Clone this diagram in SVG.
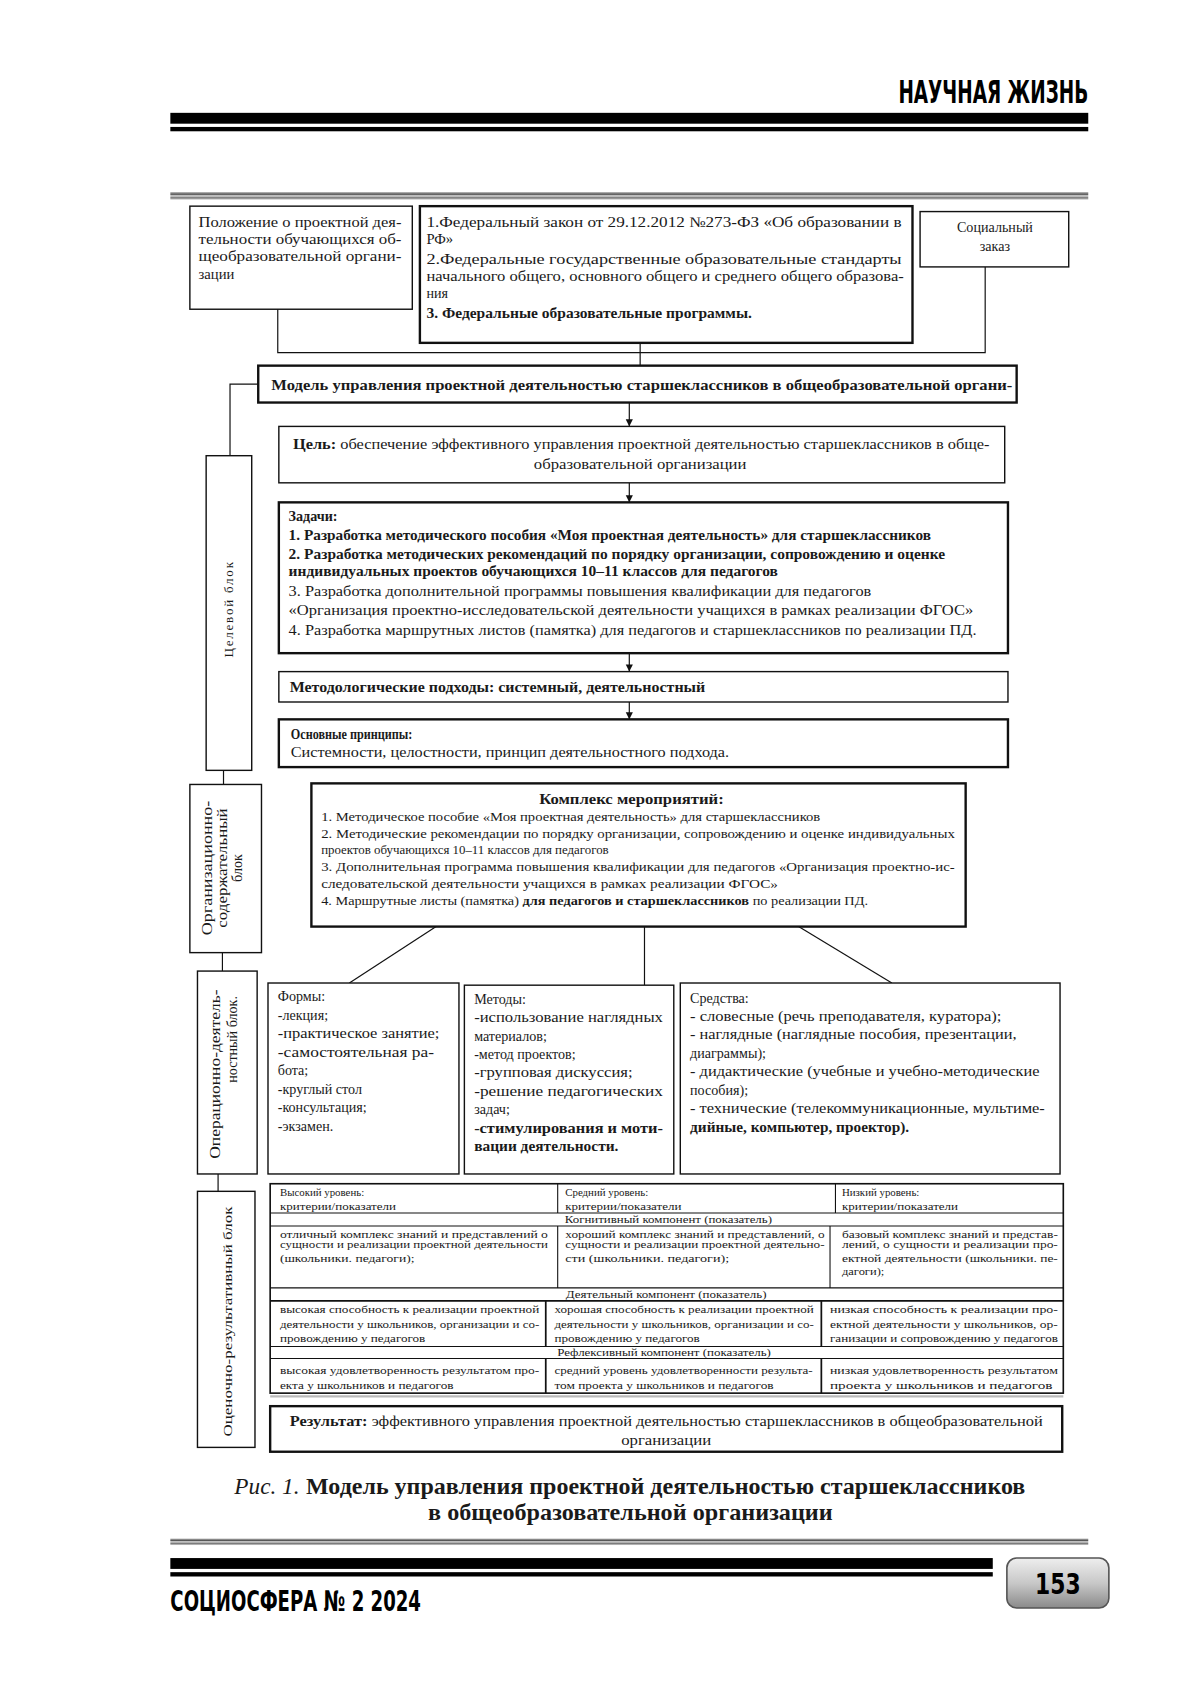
<svg xmlns="http://www.w3.org/2000/svg" width="1200" height="1697" viewBox="0 0 1200 1697">
<defs>
<style>
.t{font-family:"Liberation Serif","Times New Roman",serif;font-size:13px;fill:#1a1a1a}
.s{font-size:10px}
.m{font-size:12px}
.b{font-weight:bold}
.i{font-style:italic}
.c{text-anchor:middle}
.box{fill:#fff;stroke:#111;stroke-width:1.3}
.tk{stroke-width:2.2}
.ln{fill:none;stroke:#111;stroke-width:1.1}
.hd{font-family:"DejaVu Sans Condensed","DejaVu Sans",sans-serif;font-weight:bold;fill:#000}
</style>
<marker id="ah" viewBox="0 0 10 10" refX="10" refY="5" markerWidth="6" markerHeight="7" orient="auto">
<path d="M0,0 L10,5 L0,10 z" fill="#111"/>
</marker>
<linearGradient id="gb" x1="0" y1="0" x2="0" y2="1">
<stop offset="0" stop-color="#bbb"/><stop offset="0.3" stop-color="#555"/><stop offset="0.5" stop-color="#ddd"/><stop offset="0.75" stop-color="#777"/><stop offset="1" stop-color="#ccc"/>
</linearGradient>
<linearGradient id="pg" x1="0" y1="0" x2="0" y2="1">
<stop offset="0" stop-color="#eee"/><stop offset="0.5" stop-color="#c8c8c8"/><stop offset="1" stop-color="#8a8a8a"/>
</linearGradient>
</defs>
<rect width="1200" height="1697" fill="#fff"/>
<g transform="scale(1.085)">
<g id="header">
<text class="hd" x="828" y="95" style="font-size:30px" textLength="175" lengthAdjust="spacingAndGlyphs">НАУЧНАЯ ЖИЗНЬ</text>
<rect x="157" y="104" width="846" height="10" fill="#000"/>
<rect x="157" y="117" width="846" height="4" fill="#000"/>
<rect x="157" y="177" width="846" height="7" fill="url(#gb)"/>
</g>

<g id="connectors">
<polyline class="ln" points="256,285 256,325 908,325 908,246"/>
<line class="ln" x1="590" y1="316" x2="590" y2="337"/>
<polyline class="ln" points="238,354 212,354 212,420"/>
<line class="ln" x1="580" y1="371" x2="580" y2="393" marker-end="url(#ah)"/>
<line class="ln" x1="580" y1="445" x2="580" y2="463" marker-end="url(#ah)"/>
<line class="ln" x1="580" y1="602" x2="580" y2="619" marker-end="url(#ah)"/>
<line class="ln" x1="580" y1="647" x2="580" y2="663" marker-end="url(#ah)"/>
<line class="ln" x1="206" y1="710" x2="206" y2="723"/>
<line class="ln" x1="205" y1="878" x2="205" y2="895"/>
<line class="ln" x1="201" y1="1082" x2="201" y2="1098"/>
<line class="ln" x1="402" y1="854" x2="322" y2="906"/>
<line class="ln" x1="594" y1="854" x2="594" y2="908"/>
<line class="ln" x1="736" y1="854" x2="822" y2="906"/>
</g>

<g id="n-polozhenie">
<rect class="box" x="175" y="190" width="205" height="95"/>
<text class="t" x="183" y="209" style="font-size:13.5px" textLength="187" lengthAdjust="spacingAndGlyphs">Положение о проектной дея-</text>
<text class="t" x="183" y="225" style="font-size:13.5px" textLength="187" lengthAdjust="spacingAndGlyphs">тельности обучающихся об-</text>
<text class="t" x="183" y="241" style="font-size:13.5px" textLength="187" lengthAdjust="spacingAndGlyphs">щеобразовательной органи-</text>
<text class="t" x="183" y="257" style="font-size:13.5px">зации</text>
</g>

<g id="n-zakony">
<rect class="box tk" x="387" y="190" width="454" height="126"/>
<text class="t" x="393" y="209" style="font-size:13.5px" textLength="438" lengthAdjust="spacingAndGlyphs">1.Федеральный закон от 29.12.2012 №273-ФЗ «Об образовании в</text>
<text class="t" x="393" y="225" style="font-size:13.5px">РФ»</text>
<text class="t" x="393" y="243" style="font-size:13.5px" textLength="438" lengthAdjust="spacingAndGlyphs">2.Федеральные государственные образовательные стандарты</text>
<text class="t" x="393" y="259" textLength="440" lengthAdjust="spacingAndGlyphs">начального общего, основного общего и среднего общего образова-</text>
<text class="t" x="393" y="275">ния</text>
<text class="t b" x="393" y="293" textLength="300" lengthAdjust="spacingAndGlyphs">3. Федеральные образовательные программы.</text>
</g>

<g id="n-social">
<rect class="box" x="848" y="195" width="137" height="51"/>
<text class="t c" x="917" y="214">Социальный</text>
<text class="t c" x="917" y="231">заказ</text>
</g>

<g id="n-model">
<rect class="box tk" x="238" y="337" width="699" height="34"/>
<text class="t b" x="250" y="359" style="font-size:14px" textLength="683" lengthAdjust="spacingAndGlyphs">Модель управления проектной деятельностью старшеклассников в общеобразовательной органи-</text>
</g>

<g id="n-cel">
<rect class="box" x="257" y="393" width="669" height="52"/>
<text class="t" x="270" y="414" textLength="642" lengthAdjust="spacingAndGlyphs"><tspan class="b">Цель:</tspan> обеспечение эффективного управления проектной деятельностью старшеклассников в обще-</text>
<text class="t c" x="590" y="432" textLength="196" lengthAdjust="spacingAndGlyphs">образовательной организации</text>
</g>

<g id="n-zadachi">
<rect class="box tk" x="257" y="463" width="672" height="139"/>
<text class="t b" x="266" y="480">Задачи:</text>
<text class="t b" x="266" y="498" textLength="592" lengthAdjust="spacingAndGlyphs">1. Разработка методического пособия «Моя проектная деятельность» для старшеклассников</text>
<text class="t b" x="266" y="515" textLength="605" lengthAdjust="spacingAndGlyphs">2. Разработка методических рекомендаций по порядку организации, сопровождению и оценке</text>
<text class="t b" x="266" y="531" textLength="451" lengthAdjust="spacingAndGlyphs">индивидуальных проектов обучающихся 10–11 классов для педагогов</text>
<text class="t" x="266" y="549" textLength="537" lengthAdjust="spacingAndGlyphs">3. Разработка дополнительной программы повышения квалификации для педагогов</text>
<text class="t" x="266" y="567" textLength="631" lengthAdjust="spacingAndGlyphs">«Организация проектно-исследовательской деятельности учащихся в рамках реализации ФГОС»</text>
<text class="t" x="266" y="585" textLength="634" lengthAdjust="spacingAndGlyphs">4. Разработка маршрутных листов (памятка) для педагогов и старшеклассников по реализации ПД.</text>
</g>

<g id="n-podhody">
<rect class="box" x="257" y="619" width="672" height="28"/>
<text class="t b" x="267" y="638" textLength="383" lengthAdjust="spacingAndGlyphs">Методологические подходы: системный, деятельностный</text>
</g>

<g id="n-principy">
<rect class="box tk" x="257" y="663" width="672" height="44"/>
<text class="t b" x="268" y="681" textLength="112" lengthAdjust="spacingAndGlyphs">Основные принципы:</text>
<text class="t" x="268" y="698" textLength="404" lengthAdjust="spacingAndGlyphs">Системности, целостности, принцип деятельностного подхода.</text>
</g>

<g id="n-celevoy">
<rect class="box" x="190" y="420" width="42" height="290"/>
<text class="t m c" transform="translate(215,562) rotate(-90)" textLength="88" lengthAdjust="spacing">Целевой блок</text>
</g>

<g id="n-org">
<rect class="box" x="175" y="723" width="66" height="155"/>
<text class="t c" transform="translate(195,800) rotate(-90)" textLength="124" lengthAdjust="spacingAndGlyphs">Организационно-</text>
<text class="t c" transform="translate(209,800) rotate(-90)" textLength="110" lengthAdjust="spacingAndGlyphs">содержательный</text>
<text class="t c" transform="translate(223,800) rotate(-90)">блок</text>
</g>

<g id="n-oper">
<rect class="box" x="182" y="895" width="55" height="187"/>
<text class="t c" transform="translate(203,990) rotate(-90)" textLength="156" lengthAdjust="spacingAndGlyphs">Операционно-деятель-</text>
<text class="t c" transform="translate(218,958) rotate(-90)">ностный блок.</text>
</g>

<g id="n-ocen">
<rect class="box" x="182" y="1098" width="53" height="236"/>
<text class="t m c" transform="translate(214,1218) rotate(-90)" textLength="212" lengthAdjust="spacingAndGlyphs">Оценочно-результативный блок</text>
</g>

<g id="n-kompleks">
<rect class="box tk" x="287" y="722" width="603" height="132"/>
<text class="t b c" x="582" y="741" textLength="170" lengthAdjust="spacingAndGlyphs">Комплекс мероприятий:</text>
<text class="t m" x="296" y="757" textLength="460" lengthAdjust="spacingAndGlyphs">1. Методическое пособие «Моя проектная деятельность» для старшеклассников</text>
<text class="t m" x="296" y="772" textLength="584" lengthAdjust="spacingAndGlyphs">2. Методические рекомендации по порядку организации, сопровождению и оценке индивидуальных</text>
<text class="t m" x="296" y="787" textLength="265" lengthAdjust="spacingAndGlyphs">проектов обучающихся 10–11 классов для педагогов</text>
<text class="t m" x="296" y="803" textLength="584" lengthAdjust="spacingAndGlyphs">3. Дополнительная программа повышения квалификации для педагогов «Организация проектно-ис-</text>
<text class="t m" x="296" y="818" textLength="421" lengthAdjust="spacingAndGlyphs">следовательской деятельности учащихся в рамках реализации ФГОС»</text>
<text class="t m" x="296" y="834" textLength="504" lengthAdjust="spacingAndGlyphs">4. Маршрутные листы (памятка) <tspan class="b">для педагогов и старшеклассников</tspan> по реализации ПД.</text>
</g>

<g id="n-formy">
<rect class="box" x="247" y="906" width="176" height="176"/>
<text class="t" x="256" y="923">Формы:</text>
<text class="t" x="256" y="940">-лекция;</text>
<text class="t" x="256" y="957" textLength="149" lengthAdjust="spacingAndGlyphs">-практическое занятие;</text>
<text class="t" x="256" y="974" textLength="144" lengthAdjust="spacingAndGlyphs">-самостоятельная ра-</text>
<text class="t" x="256" y="991">бота;</text>
<text class="t" x="256" y="1008">-круглый стол</text>
<text class="t" x="256" y="1025">-консультация;</text>
<text class="t" x="256" y="1042">-экзамен.</text>
</g>

<g id="n-metody">
<rect class="box" x="428" y="908" width="193" height="174"/>
<text class="t" x="437" y="925">Методы:</text>
<text class="t" x="437" y="942" textLength="174" lengthAdjust="spacingAndGlyphs">-использование наглядных</text>
<text class="t" x="437" y="959">материалов;</text>
<text class="t" x="437" y="976">-метод проектов;</text>
<text class="t" x="437" y="993" textLength="146" lengthAdjust="spacingAndGlyphs">-групповая дискуссия;</text>
<text class="t" x="437" y="1010" textLength="174" lengthAdjust="spacingAndGlyphs">-решение педагогических</text>
<text class="t" x="437" y="1027">задач;</text>
<text class="t b" x="437" y="1044" textLength="174" lengthAdjust="spacingAndGlyphs">-стимулирования и моти-</text>
<text class="t b" x="437" y="1061" textLength="133" lengthAdjust="spacingAndGlyphs">вации деятельности.</text>
</g>

<g id="n-sredstva">
<rect class="box" x="627" y="906" width="350" height="176"/>
<text class="t" x="636" y="924">Средства:</text>
<text class="t" x="636" y="941" textLength="287" lengthAdjust="spacingAndGlyphs">- словесные (речь преподавателя, куратора);</text>
<text class="t" x="636" y="958" textLength="301" lengthAdjust="spacingAndGlyphs">- наглядные (наглядные пособия, презентации,</text>
<text class="t" x="636" y="975">диаграммы);</text>
<text class="t" x="636" y="992" textLength="322" lengthAdjust="spacingAndGlyphs">- дидактические (учебные и учебно-методические</text>
<text class="t" x="636" y="1009">пособия);</text>
<text class="t" x="636" y="1026" textLength="327" lengthAdjust="spacingAndGlyphs">- технические (телекоммуникационные, мультиме-</text>
<text class="t b" x="636" y="1043" textLength="202" lengthAdjust="spacingAndGlyphs">дийные, компьютер, проектор).</text>
</g>

<g id="n-table">
<rect x="249" y="1091" width="731" height="193" fill="#fff" stroke="#111" stroke-width="1.5"/>
<line x1="249" y1="1287" x2="980" y2="1287" stroke="#bbb" stroke-width="2"/>
<g stroke="#111" stroke-width="1">
<line x1="249" y1="1118" x2="980" y2="1118"/>
<line x1="249" y1="1130" x2="980" y2="1130"/>
<line x1="249" y1="1187" x2="980" y2="1187"/>
<line x1="249" y1="1199" x2="980" y2="1199" stroke-width="1.6"/>
<line x1="249" y1="1241" x2="980" y2="1241"/>
<line x1="249" y1="1252" x2="980" y2="1252"/>
<line x1="514" y1="1091" x2="514" y2="1118"/>
<line x1="770" y1="1091" x2="770" y2="1118"/>
<line x1="514" y1="1130" x2="514" y2="1187"/>
<line x1="765" y1="1130" x2="765" y2="1187"/>
<line x1="503" y1="1199" x2="503" y2="1241" stroke-width="1.6"/>
<line x1="757" y1="1199" x2="757" y2="1241" stroke-width="1.6"/>
<line x1="503" y1="1252" x2="503" y2="1284" stroke-width="1.6"/>
<line x1="757" y1="1252" x2="757" y2="1284" stroke-width="1.6"/>
</g>
<text class="t s" x="258" y="1102">Высокий уровень:</text>
<text class="t s" x="258" y="1115" textLength="107" lengthAdjust="spacingAndGlyphs">критерии/показатели</text>
<text class="t s" x="521" y="1102">Средний уровень:</text>
<text class="t s" x="521" y="1115" textLength="107" lengthAdjust="spacingAndGlyphs">критерии/показатели</text>
<text class="t s" x="776" y="1102">Низкий уровень:</text>
<text class="t s" x="776" y="1115" textLength="107" lengthAdjust="spacingAndGlyphs">критерии/показатели</text>
<text class="t s c" x="616" y="1127" textLength="191" lengthAdjust="spacingAndGlyphs">Когнитивный компонент (показатель)</text>
<text class="t s" x="258" y="1141" textLength="247" lengthAdjust="spacingAndGlyphs">отличный комплекс знаний и представлений о</text>
<text class="t s" x="258" y="1150" textLength="247" lengthAdjust="spacingAndGlyphs">сущности и реализации проектной деятельности</text>
<text class="t s" x="258" y="1163" textLength="124" lengthAdjust="spacingAndGlyphs">(школьники. педагоги);</text>
<text class="t s" x="521" y="1141" textLength="239" lengthAdjust="spacingAndGlyphs">хороший комплекс знаний и представлений, о</text>
<text class="t s" x="521" y="1150" textLength="239" lengthAdjust="spacingAndGlyphs">сущности и реализации проектной деятельно-</text>
<text class="t s" x="521" y="1163" textLength="151" lengthAdjust="spacingAndGlyphs">сти (школьники. педагоги);</text>
<text class="t s" x="776" y="1141" textLength="199" lengthAdjust="spacingAndGlyphs">базовый комплекс знаний и представ-</text>
<text class="t s" x="776" y="1150" textLength="199" lengthAdjust="spacingAndGlyphs">лений, о сущности и реализации про-</text>
<text class="t s" x="776" y="1163" textLength="199" lengthAdjust="spacingAndGlyphs">ектной деятельности (школьники. пе-</text>
<text class="t s" x="776" y="1175" textLength="39" lengthAdjust="spacingAndGlyphs">дагоги);</text>
<text class="t s c" x="614" y="1196" textLength="185" lengthAdjust="spacingAndGlyphs">Деятельный компонент (показатель)</text>
<text class="t s" x="258" y="1210" textLength="239" lengthAdjust="spacingAndGlyphs">высокая способность к реализации проектной</text>
<text class="t s" x="258" y="1224" textLength="239" lengthAdjust="spacingAndGlyphs">деятельности у школьников, организации и со-</text>
<text class="t s" x="258" y="1237" textLength="134" lengthAdjust="spacingAndGlyphs">провождению у педагогов</text>
<text class="t s" x="511" y="1210" textLength="239" lengthAdjust="spacingAndGlyphs">хорошая способность к реализации проектной</text>
<text class="t s" x="511" y="1224" textLength="239" lengthAdjust="spacingAndGlyphs">деятельности у школьников, организации и со-</text>
<text class="t s" x="511" y="1237" textLength="134" lengthAdjust="spacingAndGlyphs">провождению у педагогов</text>
<text class="t s" x="765" y="1210" textLength="210" lengthAdjust="spacingAndGlyphs">низкая способность к реализации про-</text>
<text class="t s" x="765" y="1224" textLength="210" lengthAdjust="spacingAndGlyphs">ектной деятельности у школьников, ор-</text>
<text class="t s" x="765" y="1237" textLength="210" lengthAdjust="spacingAndGlyphs">ганизации и сопровождению у педагогов</text>
<text class="t s c" x="612" y="1250" textLength="197" lengthAdjust="spacingAndGlyphs">Рефлексивный компонент (показатель)</text>
<text class="t s" x="258" y="1266" textLength="239" lengthAdjust="spacingAndGlyphs">высокая удовлетворенность результатом про-</text>
<text class="t s" x="258" y="1280" textLength="160" lengthAdjust="spacingAndGlyphs">екта у школьников и педагогов</text>
<text class="t s" x="511" y="1266" textLength="238" lengthAdjust="spacingAndGlyphs">средний уровень удовлетворенности результа-</text>
<text class="t s" x="511" y="1280" textLength="202" lengthAdjust="spacingAndGlyphs">том проекта у школьников и педагогов</text>
<text class="t s" x="765" y="1266" textLength="210" lengthAdjust="spacingAndGlyphs">низкая удовлетворенность результатом</text>
<text class="t s" x="765" y="1280" textLength="205" lengthAdjust="spacingAndGlyphs">проекта у школьников и педагогов</text>
</g>

<g id="n-rezultat">
<rect class="box tk" x="249" y="1296" width="730" height="42"/>
<text class="t c" x="614" y="1314" textLength="694" lengthAdjust="spacingAndGlyphs"><tspan class="b">Результат:</tspan> эффективного управления проектной деятельностью старшеклассников в общеобразовательной</text>
<text class="t c" x="614" y="1332" textLength="83" lengthAdjust="spacingAndGlyphs">организации</text>
</g>

<g id="caption">
<text class="t i" x="216" y="1377" style="font-size:21px" textLength="60" lengthAdjust="spacingAndGlyphs">Рис. 1.</text>
<text class="t b" x="282" y="1377" style="font-size:21px" textLength="663" lengthAdjust="spacingAndGlyphs">Модель управления проектной деятельностью старшеклассников</text>
<text class="t b c" x="581" y="1401" style="font-size:21px" textLength="373" lengthAdjust="spacingAndGlyphs">в общеобразовательной организации</text>
</g>

<g id="footer">
<rect x="157" y="1418" width="846" height="6" fill="url(#gb)"/>
<rect x="157" y="1436" width="758" height="10" fill="#000"/>
<rect x="157" y="1449" width="758" height="4" fill="#000"/>
<text class="hd" x="157" y="1485" style="font-size:26px" textLength="231" lengthAdjust="spacingAndGlyphs">СОЦИОСФЕРА № 2 2024</text>
<rect x="928" y="1436" width="94" height="46" rx="9" fill="url(#pg)" stroke="#555" stroke-width="1.5"/>
<text class="hd" x="954" y="1469" style="font-size:26px" textLength="42" lengthAdjust="spacingAndGlyphs">153</text>
</g>
</g>
</svg>
